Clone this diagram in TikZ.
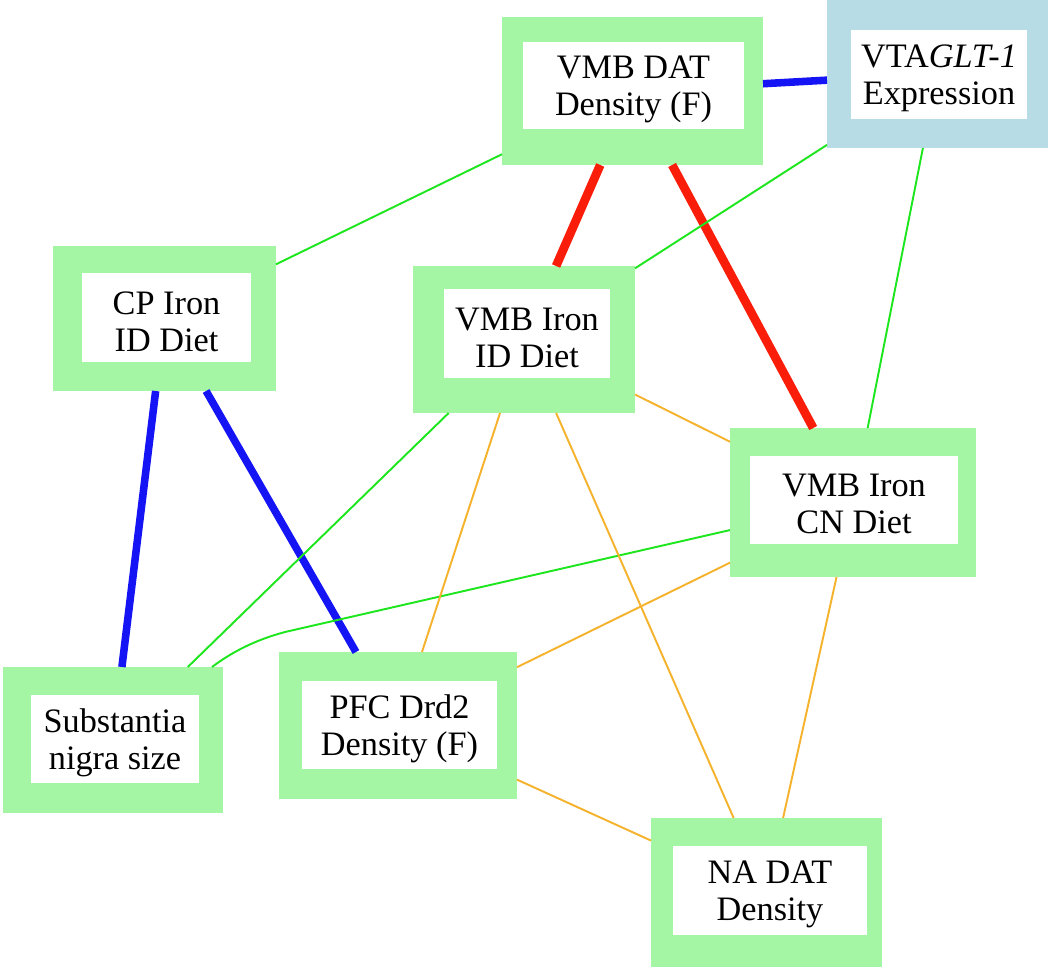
\documentclass[tikz,border=0pt]{standalone}
\usepackage{fontspec}
\setmainfont{Liberation Serif}
\usetikzlibrary{fit,calc}
\definecolor{boxgreen}{RGB}{164,246,164}
\definecolor{boxblue}{RGB}{183,220,230}
\definecolor{lblue}{RGB}{20,20,245}
\definecolor{lred}{RGB}{250,30,10}
\definecolor{lgreen}{RGB}{30,230,30}
\definecolor{lorange}{RGB}{245,178,45}
\begin{document}
\begin{tikzpicture}[x=0.02cm, y=-0.02cm,
  outerbox/.style={inner sep=0pt, outer sep=0pt, fill=boxgreen, draw=none},
  outerblue/.style={inner sep=0pt, outer sep=0pt, fill=boxblue, draw=none},
  innerbox/.style={inner sep=0pt, outer sep=0pt, fill=white, draw=none},
  lbl/.style={align=center, inner sep=0pt, yshift=-0.08cm, font=\fontsize{19.5}{21}\selectfont},
  bluel/.style={draw=lblue, line width=4.3pt},
  redl/.style={draw=lred, line width=5pt},
  greenl/.style={draw=lgreen, line width=1.1pt},
  orangel/.style={draw=lorange, line width=1.1pt}]
\useasboundingbox (0,0) rectangle (1050,966);

% boxes
\node[outerbox, fit={(502,17) (763,165)}] (datO) {};
\node[innerbox, fit={(523,42) (744,129)}] (datI) {};
\node[lbl] (dat) at (datI.center) {VMB DAT\\Density (F)};

\node[outerblue, fit={(827,0) (1048,148)}] (vtaO) {};
\node[innerbox, fit={(851,30) (1027,119)}] (vtaI) {};
\node[lbl] (vta) at (vtaI.center) {VTA\textit{GLT-1}\\Expression};

\node[outerbox, fit={(53,246) (276,391)}] (cpO) {};
\node[innerbox, fit={(82,273) (251,362)}] (cpI) {};
\node[lbl] (cp) at (cpI.center) {CP Iron\\ID Diet};

\node[outerbox, fit={(413,266) (635,413)}] (idO) {};
\node[innerbox, fit={(444,289) (610,378)}] (idI) {};
\node[lbl] (id) at (idI.center) {VMB Iron\\ID Diet};

\node[outerbox, fit={(730,428) (976,577)}] (cnO) {};
\node[innerbox, fit={(750,456) (958,544)}] (cnI) {};
\node[lbl] (cn) at (cnI.center) {VMB Iron\\CN Diet};

\node[outerbox, fit={(3,667) (223,813)}] (snO) {};
\node[innerbox, fit={(31,695) (199,783)}] (snI) {};
\node[lbl] (sn) at (snI.center) {Substantia\\nigra size};

\node[outerbox, fit={(279,652) (517,799)}] (pfcO) {};
\node[innerbox, fit={(302,681) (497,769)}] (pfcI) {};
\node[lbl] (pfc) at (pfcI.center) {PFC Drd2\\Density (F)};

\node[outerbox, fit={(651,818) (882,968)}] (naO) {};
\node[innerbox, fit={(673,846) (867,935)}] (naI) {};
\node[lbl] (na) at (naI.center) {NA DAT\\Density};

% thick edges
\draw[bluel] (datO) -- (vtaO);
\draw[bluel] (cpO) -- (snO);
\draw[bluel] (cpO) -- (pfcO);
\draw[redl] (datO) -- (idO);
\draw[redl] (datO) -- (cnO);

% green edges
\draw[greenl] (datO) -- (cpO);
\draw[greenl] (vtaO) -- (idO);
\draw[greenl] (vtaO) -- (cnO);
\draw[greenl] (idO) -- (snO);
\draw[greenl] ($(snO.north east)+(-11,0)$) .. controls (232,652) and (255,640) .. (285,632) -- ($(cnO.north west)!0.685!(cnO.south west)$);

% orange edges
\draw[orangel] (idO) -- (cnO);
\draw[orangel] (idO) -- (pfcO);
\draw[orangel] (idO) -- (naO);
\draw[orangel] (cnO) -- (pfcO);
\draw[orangel] (cnO) -- (naO);
\draw[orangel] (pfcO) -- (naO);
\end{tikzpicture}
\end{document}
